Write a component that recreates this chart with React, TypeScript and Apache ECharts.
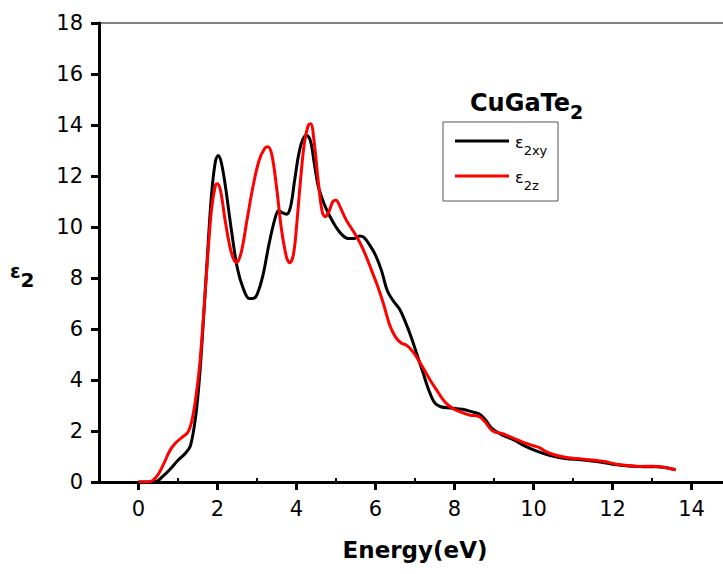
import React, { useEffect, useRef } from "react";
import * as echarts from "echarts";

const xyEnergy = [0, 0.3, 0.45, 0.6, 0.8, 1.0, 1.2, 1.32, 1.45, 1.55, 1.65, 1.75, 1.85, 1.95, 2.02, 2.1, 2.2, 2.35, 2.5, 2.65, 2.8, 2.9, 3.0, 3.15, 3.3, 3.45, 3.55, 3.65, 3.75, 3.85, 3.95, 4.05, 4.15, 4.25, 4.35, 4.45, 4.55, 4.7, 4.85, 5.0, 5.15, 5.3, 5.45, 5.6, 5.7, 5.85, 6.0, 6.15, 6.3, 6.45, 6.6, 6.75, 6.9, 7.05, 7.2, 7.35, 7.5, 7.65, 7.9, 8.2, 8.45, 8.65, 8.8, 8.95, 9.2, 9.5, 9.8, 10.1, 10.4, 10.8, 11.2, 11.6, 12.0, 12.4, 12.8, 13.1, 13.4, 13.6];
const xyValues = [0, 0, 0.02, 0.2, 0.5, 0.85, 1.15, 1.45, 2.6, 4.2, 6.5, 9.0, 11.3, 12.6, 12.8, 12.5, 11.6, 9.9, 8.4, 7.6, 7.2, 7.2, 7.35, 8.1, 9.3, 10.3, 10.65, 10.55, 10.5, 10.8, 11.8, 12.8, 13.4, 13.6, 13.4, 12.5, 11.6, 10.9, 10.4, 10.0, 9.7, 9.55, 9.55, 9.65, 9.6, 9.3, 8.9, 8.3, 7.5, 7.1, 6.8, 6.3, 5.7, 5.0, 4.3, 3.6, 3.1, 2.95, 2.9, 2.85, 2.75, 2.65, 2.4, 2.1, 1.85, 1.65, 1.4, 1.2, 1.05, 0.92, 0.87, 0.8, 0.7, 0.63, 0.6, 0.6, 0.55, 0.48];

const zEnergy = [0, 0.2, 0.35, 0.5, 0.65, 0.8, 0.95, 1.1, 1.25, 1.35, 1.45, 1.55, 1.65, 1.75, 1.85, 1.95, 2.0, 2.08, 2.2, 2.35, 2.48, 2.6, 2.75, 2.9, 3.05, 3.2, 3.28, 3.38, 3.5, 3.62, 3.75, 3.83, 3.92, 4.0, 4.1, 4.2, 4.3, 4.36, 4.45, 4.55, 4.65, 4.73, 4.82, 4.92, 5.0, 5.1, 5.25, 5.45, 5.6, 5.75, 5.9, 6.05, 6.2, 6.35, 6.5, 6.65, 6.8, 6.95, 7.1, 7.25, 7.4, 7.55, 7.7, 7.85, 8.0, 8.2, 8.4, 8.6, 8.75, 8.9, 9.0, 9.2, 9.4, 9.6, 9.8, 10.0, 10.15, 10.3, 10.5, 10.8, 11.1, 11.5, 11.8, 12.1, 12.4, 12.7, 13.0, 13.3, 13.6];
const zValues = [0, 0, 0.05, 0.3, 0.75, 1.25, 1.55, 1.75, 1.95, 2.4, 3.3, 4.6, 6.6, 8.8, 10.7, 11.65, 11.7, 11.4, 10.2, 9.0, 8.6, 9.0, 10.3, 11.6, 12.6, 13.1, 13.15, 12.8, 11.5, 9.9, 8.8, 8.6, 8.9, 10.0, 11.8, 13.3, 14.0, 14.05, 13.3, 11.8, 10.6, 10.4, 10.6, 11.0, 11.05, 10.8, 10.3, 9.8, 9.4, 8.9, 8.3, 7.7, 7.0, 6.2, 5.7, 5.45, 5.35, 5.1, 4.75, 4.35, 3.95, 3.6, 3.25, 3.0, 2.85, 2.72, 2.62, 2.58, 2.4, 2.1, 1.98, 1.9, 1.78, 1.65, 1.52, 1.42, 1.35, 1.2, 1.08, 0.97, 0.92, 0.86, 0.8, 0.7, 0.65, 0.61, 0.62, 0.58, 0.48];

const xMajorTicks = [0, 2, 4, 6, 8, 10, 12, 14];
const xMinorTicks = [1, 3, 5, 7, 9, 11, 13];
const seriesNames = ["ε2xy", "ε2z"];
const seriesSubs = ["2xy", "2z"];
const seriesColors = ["#000000", "#ff0000"];
const titleMain = "CuGaTe";
const titleSub = "2";
const xName = "Energy(eV)";

const FONT = "DejaVu Sans";

export default function App() {
  const ref = useRef<HTMLDivElement>(null);
  useEffect(() => {
    const chart = echarts.init(ref.current!, null, { renderer: "svg" });
    const zip = (xs: number[], ys: number[]) => xs.map((x, i) => [x, ys[i]]);
    const datasets = [zip(xyEnergy, xyValues), zip(zEnergy, zValues)];
    const legendY = [141, 176];
    const option: any = {
      animation: false,
      backgroundColor: "#ffffff",
      grid: {
        left: 99,
        right: 29,
        top: 23,
        bottom: 92,
        show: true,
        borderColor: "#000",
        borderWidth: 1,
        containLabel: false,
      },
      xAxis: [
        {
          type: "value",
          min: -1,
          max: 15,
          position: "bottom",
          axisLine: { onZero: false, lineStyle: { color: "#000", width: 3 } },
          axisTick: { customValues: xMajorTicks, length: 8, lineStyle: { color: "#000", width: 3 } },
          axisLabel: { customValues: xMajorTicks, color: "#000", fontSize: 21, fontFamily: FONT, margin: 16 },
          splitLine: { show: false },
          name: xName,
          nameLocation: "middle",
          nameGap: 56,
          nameTextStyle: { color: "#000", fontSize: 23, fontWeight: "bold", fontFamily: FONT },
        },
        {
          type: "value",
          min: -1,
          max: 15,
          position: "bottom",
          axisLine: { show: false, onZero: false },
          axisTick: { customValues: xMinorTicks, inside: true, length: 4, lineStyle: { color: "#000", width: 2 } },
          axisLabel: { show: false },
          splitLine: { show: false },
        },
      ],
      yAxis: {
        type: "value",
        min: 0,
        max: 18,
        interval: 2,
        position: "left",
        axisLine: { show: true, onZero: false, lineStyle: { color: "#000", width: 3 } },
        axisTick: { show: true, length: 8, lineStyle: { color: "#000", width: 3 } },
        axisLabel: { color: "#000", fontSize: 21, fontFamily: FONT, margin: 16 },
        splitLine: { show: false },
      },
      series: seriesNames.map((name, i) => ({
        name,
        type: "line",
        xAxisIndex: 0,
        data: datasets[i],
        smooth: 0.35,
        symbol: "none",
        lineStyle: { color: seriesColors[i], width: 3 },
        itemStyle: { color: seriesColors[i] },
        z: 3 + i,
      })),
      graphic: [
        {
          type: "text",
          x: 470,
          y: 91,
          style: {
            text: `{a|${titleMain}}{b|${titleSub}}`,
            align: "left",
            verticalAlign: "top",
            fill: "#000",
            rich: {
              a: { fontSize: 24, fontWeight: "bold", fontFamily: FONT, verticalAlign: "top", fill: "#000" },
              b: { fontSize: 19, fontWeight: "bold", fontFamily: FONT, verticalAlign: "bottom", padding: [11, 0, 0, 0], fill: "#000" },
            },
          },
        },
        {
          type: "rect",
          shape: { x: 443, y: 122, width: 115, height: 79 },
          style: { fill: "#fff", stroke: "#555", lineWidth: 1 },
          z: 10,
        },
        ...seriesNames.flatMap((name, i) => [
          {
            type: "line",
            shape: { x1: 455, y1: legendY[i], x2: 509, y2: legendY[i] },
            style: { stroke: seriesColors[i], lineWidth: 3 },
            z: 11,
          },
          {
            type: "text",
            x: 515,
            y: legendY[i] - 7,
            z: 11,
            style: {
              text: `{e|ε}{s|${seriesSubs[i]}}`,
              align: "left",
              verticalAlign: "top",
              fill: "#000",
              rich: {
                e: { fontSize: 16, fontFamily: FONT, verticalAlign: "top", fill: "#000" },
                s: { fontSize: 13, fontFamily: FONT, verticalAlign: "bottom", padding: [10, 0, 0, 0], fill: "#000" },
              },
            },
          },
        ]),
        {
          type: "text",
          x: 10,
          y: 261,
          style: {
            text: "{e|ε}{n|2}",
            align: "left",
            verticalAlign: "top",
            fill: "#000",
            rich: {
              e: { fontSize: 19, fontWeight: "bold", fontFamily: FONT, verticalAlign: "top", fill: "#000" },
              n: { fontSize: 20, fontWeight: "bold", fontFamily: FONT, verticalAlign: "bottom", padding: [9, 0, 0, 0], fill: "#000" },
            },
          },
        },
      ],
    };
    chart.setOption(option);
    return () => chart.dispose();
  }, []);
  return (
    <div style={{ position: "fixed", left: 0, top: 0, width: 723, height: 574, overflow: "hidden", background: "#fff" }}>
      <div ref={ref} style={{ width: 760, height: 574 }} />
    </div>
  );
}
